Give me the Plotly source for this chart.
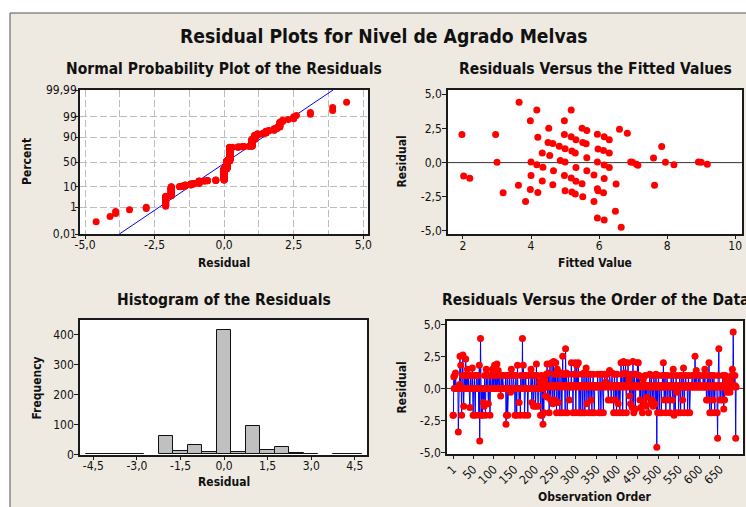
import plotly.graph_objects as go
from statistics import NormalDist, mean, stdev

W, H = 746, 507

# ---------------- data ----------------
residuals_by_order = [
    -2.1, -2.1, 0.9, 0.0, 1.0, 0.0, 1.2, 0.0, 0.0, 0.0, 0.0, 0.0, 0.0, -3.4, 0.0, 0.0, 0.3, 2.5, 0.0, 1.8,
    0.0, -2.1, 0.0, 1.0, 2.6, 0.0, -1.4, 0.0, 1.0, 0.0,
    0.0, 2.3, 0.0, 1.0, 0.0, 1.5, 0.0, 0.0, 1.0, 0.0, 0.0, -1.5, 0.0, 1.0, 0.0, 0.0, 0.0, 1.6, 0.0, -2.1,
    0.0, 0.0, 1.0, 0.0, -2.1, 0.0, 0.0, 1.0, 0.0, 0.0,
    0.0, 1.0, 0.0, -2.1, 1.8, -4.1, 0.0, 3.9, 0.0, -2.1, 0.0, 0.0, -2.1, 0.0, -1.1, 0.0, -1.4, 1.0, 0.0, -2.1,
    0.0, 1.5, 0.0, 1.0, 0.0, 0.0, -1.2, 0.0, 1.0, 0.0,
    -2.1, 0.0, 1.0, 0.0, 0.0, 0.0, 1.5, 0.0, 1.0, 0.0, 0.0, 1.8, 0.0, 0.0, 1.0, 0.0, 0.0, 1.9, 0.0, 0.0,
    1.4, 0.0, 0.0, 0.0, 1.0, 0.0, -0.6, 0.0, 1.0, 0.0,
    0.0, 1.0, 0.0, 0.0, 0.0, 0.0, 0.0, 0.0, 1.0, -2.8, -2.1, 0.0, 1.0, -2.1, 0.0, 0.0, 0.0, 1.0, 0.0, 0.0,
    -0.3, 0.0, 1.5, 0.0, 0.0, 0.0, 0.0, 1.0, 0.0, 0.0,
    0.0, -2.1, 0.0, 1.0, 0.0, -2.1, 0.0, 1.8, 0.0, 0.0, 0.0, -1.1, 0.0, 0.0, -2.1, 1.0, 0.0, 0.0, 0.0, 3.9,
    0.0, 1.8, 0.0, 1.0, -2.1, 0.0, 0.0, 1.0, 0.0, 0.0,
    0.0, 0.0, -2.1, 0.0, 1.0, 0.0, 0.0, 0.0, 0.0, 0.0, 1.5, 0.0, -1.1, 0.0, 1.0, 0.0, -1.4, 0.0, 0.0, 1.0,
    0.0, -1.4, 0.0, 1.9, 0.0, 1.0, 0.0, -1.4, 0.0, 0.0,
    0.0, 0.5, 0.0, -2.1, 0.0, 1.0, 0.0, -2.1, 0.0, -2.8, 0.0, -1.9, 0.2, 0.7, 0.2, -0.6, 0.1, 1.1, 0.2, 1.9,
    -0.7, 0.2, 1.2, 0.1, -1.9, 0.2, 1.9, 0.2, -0.9, 0.1,
    0.2, 2.0, 0.1, -1.2, 0.2, 2.1, 0.2, -0.9, 1.1, 0.2, 2.0, 0.1, -1.9, 0.2, 1.5, 0.2, -1.1, 0.1, 1.1, 0.2,
    -1.9, 0.2, 0.2, 1.2, 0.1, -1.9, 0.2, 2.5, 0.2, 1.1,
    0.2, 1.1, 0.1, -1.9, 3.1, 0.2, 1.2, 0.2, -1.9, 0.1, 0.2, 1.1, 0.2, -0.9, 0.2, 0.1, 0.1, 0.2, 2.0, 0.2,
    0.2, 0.1, -1.9, 0.2, 0.2, 1.1, 0.2, 2.0, 0.1, -1.9,
    0.2, 1.8, 0.2, 1.1, 0.1, 2.0, 0.2, -1.9, 0.2, 0.2, 0.1, -1.9, 0.2, 0.2, 1.1, 0.2, -1.9, 0.1, 0.2, 1.2,
    0.2, -1.9, 0.2, 0.1, 1.6, 0.2, -1.2, 0.2, 0.1, 1.1,
    0.2, -1.9, 0.1, 0.2, 1.1, 0.2, -0.9, 0.2, -1.9, 0.1, 0.2, 1.1, 0.2, 0.2, -1.9, 0.1, 0.2, 0.2, 0.2, 0.1,
    0.2, 0.1, 1.1, 0.2, 0.2, -1.9, 0.2, 0.1, 1.1, 0.2,
    -1.9, 0.2, 0.1, 1.1, 0.2, 0.2, -1.9, 0.2, 0.1, 1.1, 0.2, 0.2, 0.5, 0.1, 0.2, 1.1, 0.2, 0.2, -0.9, 0.1,
    0.2, 1.4, 0.2, 0.2, 0.1, -0.9, 0.2, 1.2, 0.2, 0.1,
    0.2, -1.9, 0.2, 1.1, 0.1, -0.9, 0.2, 0.2, -1.9, 1.1, 0.2, 0.1, -1.2, 0.2, 0.2, 0.2, -1.9, 0.1, 0.2, 2.0,
    0.2, 1.1, 0.1, -1.9, 0.2, 2.1, 0.2, 0.1, 1.2, 0.2,
    2.0, 0.2, -1.9, 0.1, 1.1, 0.2, 2.0, 0.2, 0.7, 0.1, -0.6, 0.2, -1.2, 0.2, 1.1, 0.1, -1.5, 0.2, 2.1, 0.2,
    -1.9, 0.1, 1.1, 0.2, -1.6, 0.2, 0.2, 1.1, 0.1, 2.0,
    0.2, 2.0, 0.1, 1.0, 0.2, -0.9, 0.2, -1.5, 0.1, 0.9, 0.2, -1.9, 0.2, 0.7, 0.1, -1.1, 0.2, 0.2, 1.0, -1.4,
    0.2, 0.1, -0.7, 0.2, 0.2, 0.2, -1.9, 0.1, 0.2, 1.1,
    0.1, -1.2, 0.2, 1.0, 0.1, -0.9, 0.2, -1.4, 0.1, 1.0, 0.2, 0.1, -1.2, 0.2, 1.1, 0.1, -4.6, 0.2, -1.9, 0.1,
    1.0, 0.2, -1.9, 0.1, 0.2, 0.2, 0.1, -1.9, 0.2, 0.1,
    1.0, 0.1, 2.0, 0.2, -0.9, 0.1, 1.0, 0.2, -1.9, 0.1, 0.2, 1.0, 0.1, -0.9, 0.2, 0.1, 0.2, 0.2, -1.9, 0.1,
    0.2, 1.0, 0.1, 0.2, -0.9, 0.1, 1.5, 0.2, -2.1, 0.1,
    0.2, -1.9, 0.1, 1.0, 0.2, -0.3, 0.1, 0.2, 0.2, -1.9, 0.1, 0.2, 1.0, 0.1, -1.9, 0.2, 0.1, 1.0, 0.2, -0.9,
    0.1, 1.6, 0.2, -1.9, 0.1, 0.2, 1.0, 0.1, 0.1, 0.2,
    0.1, -1.9, 0.2, 1.0, 0.1, 0.2, -1.9, 0.1, 0.2, 0.2, 0.1, 0.2, 1.0, 0.1, 0.2, 0.1, 0.2, 1.0, 0.1, 2.5,
    0.2, 0.1, 1.4, 0.2, 0.1, 0.2, 0.1, 1.0, 0.2, 0.1,
    0.2, 1.0, 0.1, 0.2, 0.1, 0.2, 0.2, 0.1, 0.2, 1.0, 0.1, 0.2, 0.1, 1.5, 0.2, 0.1, 0.2, -0.9, 0.1, 1.0,
    0.2, -0.9, 0.1, 2.0, 0.2, -1.9, 0.1, 1.0, 0.2, -1.9,
    0.1, 1.0, 0.2, -0.9, 0.1, 1.0, 0.2, -1.9, 0.1, 0.2, 0.1, 0.1, 0.2, -1.9, -3.9, 0.2, 1.0, 3.1, 0.1, 0.2,
    -0.9, 0.1, 0.1, 0.2, 0.1, -0.9, 0.2, 1.0, 0.1, -1.6,
    0.2, -0.9, 0.1, 1.0, 0.2, 0.7, 0.1, -0.3, 0.2, 0.6, 0.1, 0.1, 0.2, 0.1, -0.3, 0.2, 0.5, 0.1, 1.0, 0.2,
    1.5, 0.2, 4.4, 1.0, 0.2, 0.1, 1.0, 0.2, -3.9, 0.1,
]

fitted_values = [
    1.97, 2.02, 2.20, 2.96, 3.00, 3.18, 3.65, 3.63, 3.84, 3.98, 4.00, 4.00, 3.98, 4.17, 4.20, 4.17, 4.20,
    4.33, 4.35, 4.33, 4.52, 4.50, 4.55, 4.64, 4.66, 4.64, 4.83, 4.86, 4.98, 4.98, 5.00, 5.00, 4.98, 5.00,
    5.18, 5.18, 5.20, 5.18, 5.20, 5.32, 5.30, 5.32, 5.32, 5.30, 5.50, 5.52, 5.50, 5.52, 5.64, 5.62, 5.64,
    5.64, 5.85, 5.85, 5.95, 5.97, 5.95, 5.95, 5.97, 5.95, 6.15, 6.13, 6.15, 6.15, 6.13, 6.15, 6.30, 6.30,
    6.30, 6.50, 6.48, 6.60, 6.65, 6.83, 6.93, 6.98, 7.10, 7.14, 7.60, 7.63, 7.84, 7.95, 8.20, 8.92, 9.00,
    9.18,
]
fitted_residuals = [
    2.05, -0.97, -1.15, 2.05, 0.02, -2.20, 4.42, -1.65, -2.85, 3.07, 0.05, -0.95, -1.97, 3.85, 1.85, -0.15,
    -2.18, 0.70, -0.33, -1.35, 2.52, 1.48, 0.52, 1.40, -0.60, -1.62, 1.20, 0.15, 3.07, 2.05, 1.02, 0.05,
    -0.95, -2.05, 3.85, 1.90, 0.85, -1.12, -2.15, 1.68, 0.70, -0.35, -1.37, -2.30, 2.52, 1.48, -1.55, -2.50,
    2.35, 1.38, 0.35, -0.60, -0.90, -2.85, 2.07, 1.00, 0.05, -1.92, -2.05, -4.05, 1.90, 0.88, -0.17, -1.17,
    -2.20, -4.20, 1.68, 0.70, -0.35, -1.57, -3.55, 2.44, -4.73, 2.15, 0.05, 0.03, -0.12, -0.20, 0.33, -1.65,
    1.17, 0.02, -0.15, 0.04, 0.02, -0.12,
]

percent_ticks = [0.01, 1, 10, 50, 90, 99, 99.99]
percent_labels = ["0,01", "1", "10", "50", "90", "99", "99,99"]
resid_ticks = [-5.0, -2.5, 0.0, 2.5, 5.0]
resid_grid = [-3.75, -1.25, 1.25, 3.75]
fit_ticks = [2, 4, 6, 8, 10]
hist_ticks = [-4.5, -3.0, -1.5, 0.0, 1.5, 3.0, 4.5]
freq_ticks = [0, 100, 200, 300, 400]
order_ticks = [1, 50, 100, 150, 200, 250, 300, 350, 400, 450, 500, 550, 600, 650]
res5_ticks = [-5.0, -2.5, 0.0, 2.5, 5.0]


def comma(v, nd=1):
    return f"{v:.{nd}f}".replace(".", ",")


nd = NormalDist()
n = len(residuals_by_order)
obs = list(range(1, n + 1))
sorted_res = sorted(residuals_by_order)
z_scores = [nd.inv_cdf((i + 1 - 0.3) / (n + 0.4)) for i in range(n)]
mu, sd = mean(residuals_by_order), stdev(residuals_by_order)
z_edge = nd.inv_cdf(0.9999)
line_z = [-z_edge, z_edge]
line_x = [mu + sd * z for z in line_z]

# ---------------- style ----------------
FONT = "DejaVu Sans Condensed, DejaVu Sans, sans-serif"
BG = "#EEEAE1"
RED = "#FF0000"
BLUE = "#0000FF"
AX = "#1a1a1a"
GRID = "#BDBDBD"


def px(x):
    return min(max(x / W, 0.0), 1.0)


def py(y):
    return min(max(1 - y / H, 0.0), 1.0)


def axis(domain, rng, tickvals, ticktext, **kw):
    d = dict(domain=domain, range=rng, tickvals=tickvals, ticktext=ticktext,
             showline=True, linecolor=AX, linewidth=1.5, mirror=True,
             ticks="outside", ticklen=3, tickcolor=AX, tickwidth=1,
             showgrid=False, zeroline=False, automargin=False,
             tickfont=dict(family=FONT, size=12, color="#111"))
    d.update(kw)
    return d


fig = go.Figure()

# Panel 1: normal probability plot
fig.add_trace(go.Scatter(x=line_x, y=line_z, mode="lines", line=dict(color=BLUE, width=1),
                         xaxis="x", yaxis="y", showlegend=False))
fig.add_trace(go.Scatter(x=sorted_res, y=z_scores, mode="markers",
                         marker=dict(color=RED, size=7), xaxis="x", yaxis="y", showlegend=False))

# Panel 2: residuals vs fitted
fig.add_trace(go.Scatter(x=fitted_values, y=fitted_residuals, mode="markers",
                         marker=dict(color=RED, size=7), xaxis="x2", yaxis="y2", showlegend=False))

# Panel 3: histogram
fig.add_trace(go.Histogram(x=residuals_by_order, xbins=dict(start=-4.75, end=4.75, size=0.5),
                           marker=dict(color="#C0C0C0", line=dict(color="#111", width=1)),
                           xaxis="x3", yaxis="y3", showlegend=False))

# Panel 4: residuals vs order
fig.add_trace(go.Scatter(x=obs, y=residuals_by_order, mode="lines+markers",
                         line=dict(color=BLUE, width=1), marker=dict(color=RED, size=7),
                         xaxis="x4", yaxis="y4", showlegend=False))

z_ticks = [nd.inv_cdf(p / 100) for p in percent_ticks]
XS = -3   # x tick label standoff
YS = -2   # y tick label standoff

layout = dict(
    width=W, height=H, autosize=False, margin=dict(l=0, r=0, t=0, b=0, pad=0),
    paper_bgcolor=BG, plot_bgcolor="white", bargap=0,
    xaxis=axis([px(80), px(368)], [-5.18, 5.17], resid_ticks, [comma(v) for v in resid_ticks],
               anchor="y", ticklabelstandoff=XS - 1,
               showgrid=True, gridcolor=GRID, griddash="7px,3px", gridwidth=1,
               minor=dict(tickvals=resid_grid, showgrid=True, gridcolor=GRID, griddash="7px,3px",
                          gridwidth=1, ticks="")),
    yaxis=axis([py(234), py(90)], [-z_edge, z_edge], z_ticks, percent_labels,
               anchor="x", ticklabelstandoff=YS - 2,
               showgrid=True, gridcolor=GRID, griddash="7px,3px", gridwidth=1),
    xaxis2=axis([px(448), px(742)], [1.56, 10.2], fit_ticks, [str(v) for v in fit_ticks],
                anchor="y2", ticklabelstandoff=XS),
    yaxis2=axis([py(234), py(90)], [-5.22, 5.31], res5_ticks, [comma(v) for v in res5_ticks],
                anchor="x2", ticklen=4, ticklabelstandoff=YS),
    xaxis3=axis([px(80), px(367)], [-4.96, 4.92], hist_ticks, [comma(v) for v in hist_ticks],
                anchor="y3", ticklabelstandoff=XS - 1),
    yaxis3=axis([py(455), py(320)], [-2, 450], freq_ticks, [str(v) for v in freq_ticks],
                anchor="x3", ticklen=4, ticklabelstandoff=YS),
    xaxis4=axis([px(447), px(743)], [-13.6, 706.8], order_ticks, [str(v) for v in order_ticks],
                anchor="y4", tickangle=-45, ticklabelstandoff=-1,
                tickfont=dict(family=FONT, size=12, color="#111")),
    yaxis4=axis([py(454), py(321)], [-5.12, 5.26], res5_ticks, [comma(v) for v in res5_ticks],
                anchor="x4", ticklen=4, ticklabelstandoff=YS),
)

shapes = [
    dict(type="rect", xref="paper", yref="paper", x0=0, x1=1, y0=py(13), y1=1,
         fillcolor="white", line=dict(width=0), layer="below"),
    dict(type="rect", xref="paper", yref="paper", x0=0, x1=px(10), y0=0, y1=1,
         fillcolor="white", line=dict(width=0), layer="below"),
    dict(type="line", xref="paper", yref="paper", x0=px(10), x1=1, y0=py(13), y1=py(13),
         line=dict(color="#555", width=1)),
    dict(type="line", xref="paper", yref="paper", x0=px(10), x1=px(10), y0=0, y1=py(13),
         line=dict(color="#555", width=1)),
    dict(type="line", xref="x2 domain", yref="y2", x0=0, x1=1, y0=0, y1=0,
         line=dict(color="#333", width=1), layer="below"),
    dict(type="line", xref="x4 domain", yref="y4", x0=0, x1=1, y0=0, y1=0,
         line=dict(color="#333", width=1), layer="below"),
]


def ann(text, x, y, size, bold=True, angle=0):
    return dict(text=f"<b>{text}</b>" if bold else text, x=x / W, y=1 - y / H,
                xref="paper", yref="paper",
                showarrow=False, xanchor="center", yanchor="middle", textangle=angle,
                font=dict(family=FONT, size=size, color="#111"))


annotations = [
    ann("Residual Plots for Nivel de Agrado Melvas", 384.5, 36, 19.2),
    ann("Normal Probability Plot of the Residuals", 224, 69, 15.5),
    ann("Residuals Versus the Fitted Values", 595, 69, 15.5),
    ann("Histogram of the Residuals", 224, 300, 15.5),
    ann("Residuals Versus the Order of the Data", 595, 300, 15.5),
    ann("Residual", 224, 263, 12),
    ann("Fitted Value", 595, 263, 12),
    ann("Residual", 224, 482, 12),
    ann("Observation Order", 595, 497, 12),
    ann("Percent", 27, 162, 12, angle=-90),
    ann("Residual", 401.5, 162, 12, angle=-90),
    ann("Frequency", 36.5, 388, 12, angle=-90),
    ann("Residual", 401.5, 388, 12, angle=-90),
]

fig.update_layout(**layout, shapes=shapes, annotations=annotations)
fig.write_html("out.html")
